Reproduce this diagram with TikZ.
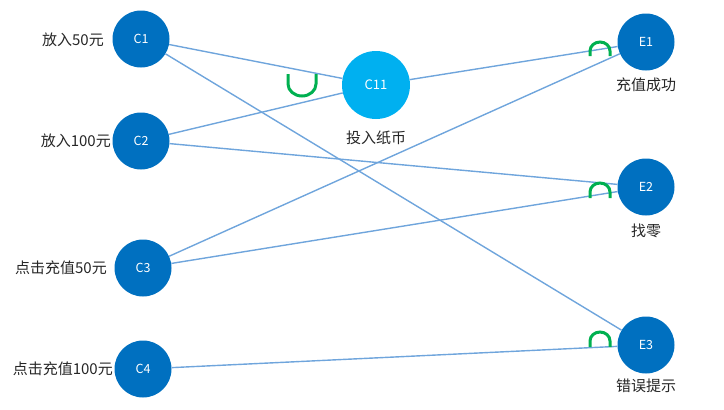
\documentclass[tikz,border=0pt]{standalone}
\usepackage{fontspec}
\setmainfont{Noto Sans CJK SC}
\begin{document}
\begin{tikzpicture}[x=1pt,y=-1pt,
  cnode/.style={circle,fill=nodeblue,minimum size=57pt,inner sep=0pt,text=white,font=\fontsize{12.5}{13}\selectfont},
  bignode/.style={circle,fill=lightcyan,minimum size=68pt,inner sep=0pt,text=white,font=\fontsize{13}{14}\selectfont},
  lbl/.style={text=black!85,font=\fontsize{15}{17}\selectfont,inner sep=0pt},
  link/.style={draw=linkblue,line width=1.4pt},
  andmark/.style={draw=andgreen,line width=3pt}
]
\definecolor{nodeblue}{HTML}{0070C0}
\definecolor{lightcyan}{HTML}{00B0F0}
\definecolor{linkblue}{HTML}{6FA5DC}
\definecolor{andgreen}{HTML}{00B050}
\useasboundingbox (0,0) rectangle (724,410);

\node[cnode] (c1) at (141,39) {C1};
\node[cnode] (c2) at (141,141) {C2};
\node[cnode] (c3) at (143,268) {C3};
\node[cnode] (c4) at (143,369) {C4};
\node[bignode] (c11) at (376,85) {C11};
\node[cnode] (e1) at (646,42) {E1};
\node[cnode] (e2) at (646,187) {E2};
\node[cnode] (e3) at (646,345) {E3};

\node[lbl,anchor=east] (l1) at (104,40) {放入50元};
\node[lbl,anchor=east] (l2) at (111,141) {放入100元};
\node[lbl,anchor=east] (l3) at (107,268) {点击充值50元};
\node[lbl,anchor=east] (l4) at (113,369) {点击充值100元};
\node[lbl] (l11) at (376,138) {投入纸币};
\node[lbl] (le1) at (646,85) {充值成功};
\node[lbl] (le2) at (646,231) {找零};
\node[lbl] (le3) at (646,386) {错误提示};

\draw[link] (c1) -- (c11);
\draw[link] (c1) -- (e3);
\draw[link] (c2) -- (c11);
\draw[link] (c2) -- (e2);
\draw[link] (c3) -- (e1);
\draw[link] (c3) -- (e2);
\draw[link] (c4) -- (e3);
\draw[link] (c11) -- (e1);

% AND marks
\coordinate (a0) at (288,74);
\draw[andmark] (a0) -- ++(0,10) arc[start angle=180,end angle=360,x radius=14,y radius=-12] -- ++(0,-10);
\coordinate (a1) at (590,56);
\draw[andmark] (a1) -- ++(0,-5) arc[start angle=180,end angle=0,x radius=10,y radius=-9] -- ++(0,5);
\coordinate (a2) at (590,198);
\draw[andmark] (a2) -- ++(0,-6) arc[start angle=180,end angle=0,x radius=10,y radius=-9] -- ++(0,6);
\coordinate (a3) at (590,347);
\draw[andmark] (a3) -- ++(0,-6) arc[start angle=180,end angle=0,x radius=10,y radius=-9] -- ++(0,6);
\end{tikzpicture}
\end{document}
